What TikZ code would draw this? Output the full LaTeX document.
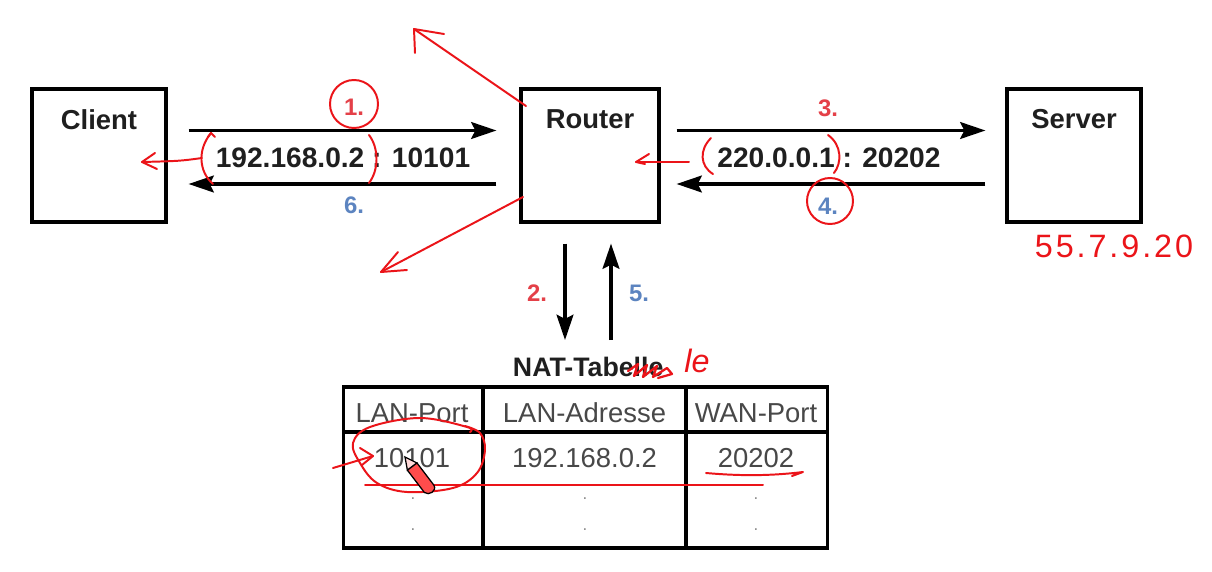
\documentclass[tikz,border=0pt]{standalone}
\usepackage{fontspec}
\setmainfont{Liberation Sans}
\usetikzlibrary{arrows.meta,calc}
\definecolor{numred}{RGB}{228,64,72}
\definecolor{numblue}{RGB}{92,132,192}
\definecolor{pen}{RGB}{235,20,25}
\definecolor{tabtxt}{RGB}{72,72,72}
\tikzset{
  box/.style={draw=black, line width=2.2pt, minimum height=3.325cm, inner sep=0pt},
  lbl/.style={font=\bfseries\fontsize{19.5}{22}\selectfont, text=black!88},
  arr/.style={line width=2.2pt, -{Stealth[length=18pt,width=12pt,inset=3pt]}},
  num/.style={font=\bfseries\fontsize{17}{20}\selectfont},
  addr/.style={font=\bfseries\fontsize{20}{22}\selectfont, text=black!88},
  hand/.style={draw=pen, line width=1.4pt, line cap=round, line join=round},
  tabtext/.style={font=\fontsize{19.5}{22}\selectfont, text=tabtxt},
  tabdot/.style={font=\fontsize{12}{14}\selectfont, text=black!45},
  grid/.style={line width=2.2pt},
}
\begin{document}
\begin{tikzpicture}[x=0.025cm,y=-0.025cm]
\useasboundingbox (0,0) rectangle (1212,572);
\fill[white] (0,0) rectangle (1212,572);

% boxes
\node[box, minimum width=3.35cm] (client) at (99,155.5) {};
\node[box, minimum width=3.45cm] (router) at (590,155.5) {};
\node[box, minimum width=3.35cm] (server) at (1074,155.5) {};
\node[lbl] (clientlbl) at ([shift={(0,-36)}]client.center) {Client};
\node[lbl] (routerlbl) at ([shift={(0,-36)}]router.center) {Router};
\node[lbl] (serverlbl) at ([shift={(0,-36)}]server.center) {Server};

% horizontal arrows
\draw[arr] ([shift={(21,-25)}]client.east) -- ([shift={(-23,-25)}]router.west);
\draw[arr] ([shift={(-23,28.5)}]router.west) -- ([shift={(21,28.5)}]client.east);
\draw[arr] ([shift={(16,-25)}]router.east) -- ([shift={(-20,-25)}]server.west);
\draw[arr] ([shift={(-20,28.5)}]server.west) -- ([shift={(16,28.5)}]router.east);

\node[addr] (addrL) at (343,158) {192.168.0.2 : 10101};
\node[addr] (addrR) at (829,158) {220.0.0.1 : 20202};

% numbers
\node[num, text=numred] (n1) at (354,107) {1.};
\node[num, text=numblue] (n6) at (354,205) {6.};
\node[num, text=numred] (n3) at (828,108) {3.};
\node[num, text=numblue] (n4) at (828,206) {4.};
\node[num, text=numred] (n2) at (537,293) {2.};
\node[num, text=numblue] (n5) at (639,293) {5.};

% vertical arrows
\coordinate (d2end) at (565,340);
\coordinate (u5start) at (611,340);
\draw[arr] ([shift={(-25,20)}]router.south) -- (d2end);
\draw[arr] (u5start) -- ([shift={(21,20)}]router.south);

% NAT table
\node[font=\bfseries\fontsize{19}{22}\selectfont, text=black!88, anchor=west] (title) at (508,367) {NAT-Tabelle};
\node[draw, line width=2.2pt, minimum width=12.075cm, minimum height=4.025cm, inner sep=0pt] (tab) at (585.5,467.5) {};
\coordinate (c1) at (483,432);
\coordinate (c2) at (686,432);
\draw[grid] (tab.north -| c1) -- (tab.south -| c1);
\draw[grid] (tab.north -| c2) -- (tab.south -| c2);
\draw[line width=2.8pt] (tab.west |- c1) -- (tab.east |- c1);

\node[tabtext] (h1) at (412,413) {LAN-Port};
\node[tabtext] (h2) at (584.5,413) {LAN-Adresse};
\node[tabtext] (h3) at (756,413) {WAN-Port};
\node[tabtext] (d1) at (412,458) {10101};
\node[tabtext] (d2) at (584.5,458) {192.168.0.2};
\node[tabtext] (d3) at (756,458) {20202};
\foreach \xx/\nm in {413/a,585/b,756/c}{
  \node[tabdot] (dot1\nm) at (\xx,499) {.};
  \node[tabdot] (dot2\nm) at (\xx,530) {.};
}

% ---- red hand annotations ----
\draw[hand] (354,104) circle [radius=24];
\draw[hand] (830,201) circle [radius=23];
% parentheses
\draw[hand] (211,133) .. controls (197,150) and (199,172) .. (213,184);
\draw[hand] (208,137) -- (211,133) -- (215,137);
\draw[hand] (369,135) .. controls (379,148) and (379,170) .. (369,183);
\draw[hand] (711,138) .. controls (699,150) and (700,166) .. (713,174);
\draw[hand] (828,135) .. controls (842,145) and (842,163) .. (834,173);
% arrows
\draw[hand] (202,158) .. controls (180,161) .. (142,162);
\draw[hand] (155,153) -- (142,162) -- (157,169);
\draw[hand] (689,162) -- (636,162);
\draw[hand] (649,154) -- (636,162) -- (645,164);
\draw[hand] (526,106) -- (414,29);
\draw[hand] (444,34) -- (414,29) -- (415,53);
\draw[hand] (523,197) -- (381,272);
\draw[hand] (398,252) -- (381,272) -- (407,270);
% server address
\node[text=pen, font=\fontsize{23}{26}\selectfont\addfontfeatures{LetterSpace=9}] (srvip) at (1114,246) {55.7.9.20};
% correction of title
\draw[hand, line width=1.6pt] (628,371) -- (638,364) -- (634,376) -- (647,365) -- (643,377) -- (657,366) -- (653,377) -- (667,368) -- (672,374) -- (658,378);
\node[text=pen, font=\itshape\fontsize{23}{26}\selectfont] (corr) at (697,361) {le};
% table marks
\draw[hand] plot[smooth, tension=0.6] coordinates {(470,432) (467,427) (420,418) (370,427) (353,443) (360,463) (377,483) (407,492) (453,488) (477,473) (485,450) (480,433) (465,426)};
\draw[hand] (333,468) -- (373,456);
\draw[hand] (360,448) -- (373,456) -- (362,465);
\draw[hand] (365,485) -- (763,485);
\draw[hand] (706,473) .. controls (740,476) and (770,476) .. (803,472) -- (792,476);
% pen cursor
\filldraw[fill=red!15, draw=black, line width=0.9pt] (405,457) -- (417,463) -- (407.4,470.2) -- cycle;
\filldraw[fill=red!70!white, draw=black, line width=0.9pt] (417,463) -- (434,485.3) .. controls (437,491) and (429,496) .. (424.4,492.5) -- (407.4,470.2) -- cycle;
\end{tikzpicture}
\end{document}
